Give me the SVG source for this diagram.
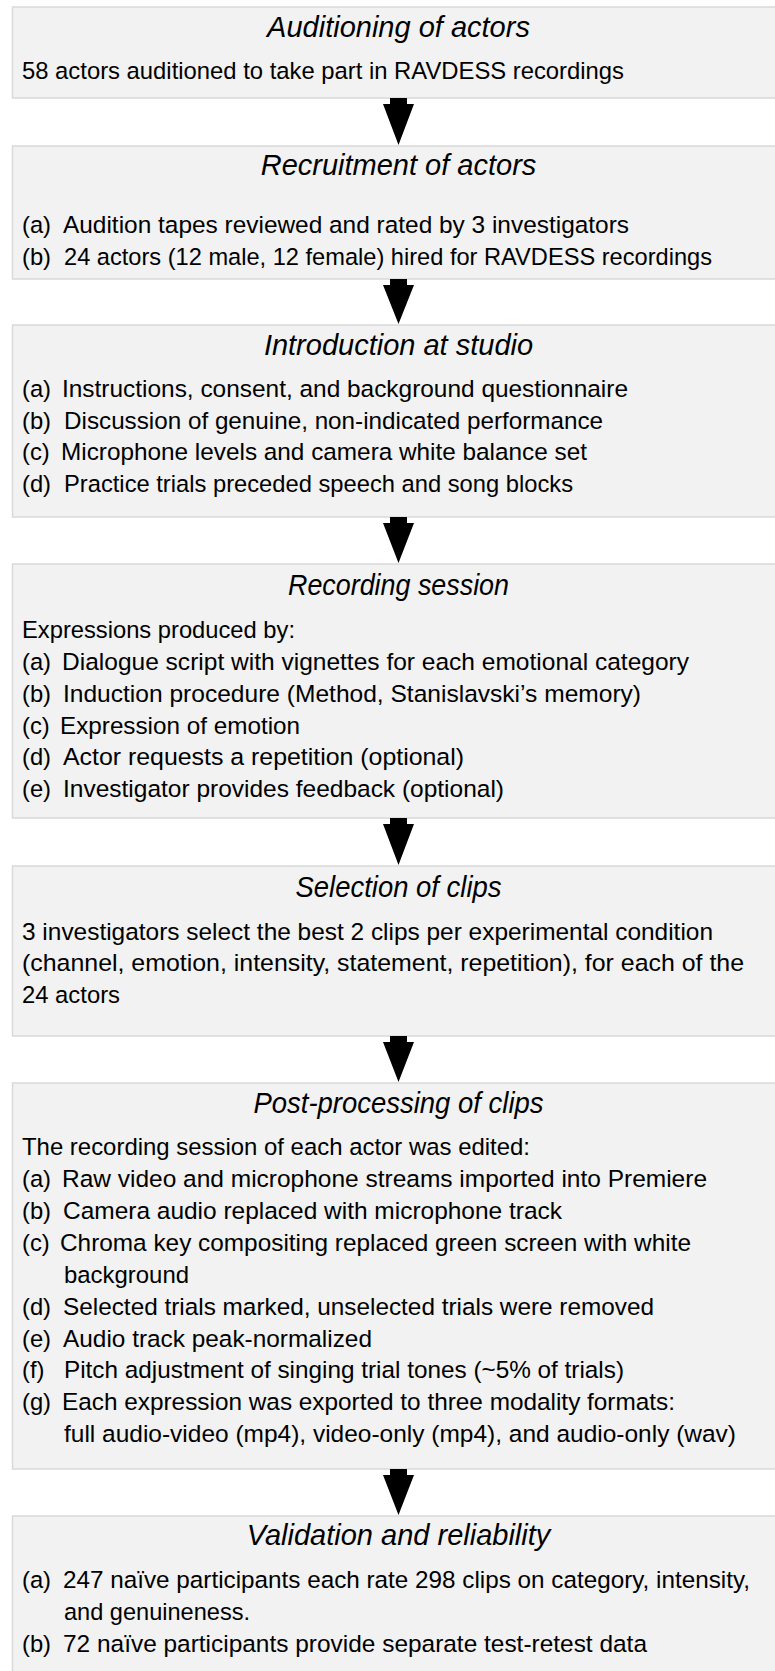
<svg xmlns="http://www.w3.org/2000/svg" width="775" height="1671" viewBox="0 0 775 1671">
<style>
.box{fill:#f2f2f2;stroke:#d9d9d9;stroke-width:1.5}
.t{font-family:"Liberation Sans",Arial,sans-serif;font-style:italic;font-size:29px;fill:#000;text-anchor:middle}
.b{font-family:"Liberation Sans",Arial,sans-serif;font-size:23.75px;fill:#000}
.arr{fill:#000}
</style>
<rect width="775" height="1671" fill="#fff"/>
<g id="node1">
<rect class="box" x="12.5" y="7" width="800" height="91"/>
<text class="t" x="398.5" y="37">Auditioning of actors</text>
<text class="b" x="22" y="78.5" textLength="602" lengthAdjust="spacingAndGlyphs">58 actors auditioned to take part in RAVDESS recordings</text>
</g>
<g id="node2">
<rect class="box" x="12.5" y="146" width="800" height="133"/>
<text class="t" x="398.5" y="175">Recruitment of actors</text>
<text class="b" x="22" y="233">(a)</text><text class="b" x="63" y="233" textLength="566" lengthAdjust="spacingAndGlyphs">Audition tapes reviewed and rated by 3 investigators</text>
<text class="b" x="22" y="265">(b)</text><text class="b" x="64" y="265" textLength="648" lengthAdjust="spacingAndGlyphs">24 actors (12 male, 12 female) hired for RAVDESS recordings</text>
</g>
<g id="node3">
<rect class="box" x="12.5" y="325" width="800" height="192"/>
<text class="t" x="398.5" y="355">Introduction at studio</text>
<text class="b" x="22" y="397">(a)</text><text class="b" x="62" y="397" textLength="566" lengthAdjust="spacingAndGlyphs">Instructions, consent, and background questionnaire</text>
<text class="b" x="22" y="428.5">(b)</text><text class="b" x="64" y="428.5" textLength="539" lengthAdjust="spacingAndGlyphs">Discussion of genuine, non-indicated performance</text>
<text class="b" x="22" y="460">(c)</text><text class="b" x="61" y="460" textLength="526" lengthAdjust="spacingAndGlyphs">Microphone levels and camera white balance set</text>
<text class="b" x="22" y="492">(d)</text><text class="b" x="64" y="492" textLength="509" lengthAdjust="spacingAndGlyphs">Practice trials preceded speech and song blocks</text>
</g>
<g id="node4">
<rect class="box" x="12.5" y="564" width="800" height="254"/>
<text class="t" x="398.5" y="595" textLength="221" lengthAdjust="spacingAndGlyphs">Recording session</text>
<text class="b" x="22" y="638" textLength="273" lengthAdjust="spacingAndGlyphs">Expressions produced by:</text>
<text class="b" x="22" y="670">(a)</text><text class="b" x="62" y="670" textLength="627" lengthAdjust="spacingAndGlyphs">Dialogue script with vignettes for each emotional category</text>
<text class="b" x="22" y="702">(b)</text><text class="b" x="63" y="702" textLength="578" lengthAdjust="spacingAndGlyphs">Induction procedure (Method, Stanislavski’s memory)</text>
<text class="b" x="22" y="733.5">(c)</text><text class="b" x="60" y="733.5" textLength="240" lengthAdjust="spacingAndGlyphs">Expression of emotion</text>
<text class="b" x="22" y="765">(d)</text><text class="b" x="63" y="765" textLength="401" lengthAdjust="spacingAndGlyphs">Actor requests a repetition (optional)</text>
<text class="b" x="22" y="797">(e)</text><text class="b" x="63" y="797" textLength="441" lengthAdjust="spacingAndGlyphs">Investigator provides feedback (optional)</text>
</g>
<g id="node5">
<rect class="box" x="12.5" y="866" width="800" height="170"/>
<text class="t" x="398.5" y="897" textLength="206" lengthAdjust="spacingAndGlyphs">Selection of clips</text>
<text class="b" x="22" y="939.5" textLength="691" lengthAdjust="spacingAndGlyphs">3 investigators select the best 2 clips per experimental condition</text>
<text class="b" x="22" y="971" textLength="722" lengthAdjust="spacingAndGlyphs">(channel, emotion, intensity, statement, repetition), for each of the</text>
<text class="b" x="22" y="1003" textLength="98" lengthAdjust="spacingAndGlyphs">24 actors</text>
</g>
<g id="node6">
<rect class="box" x="12.5" y="1083" width="800" height="386"/>
<text class="t" x="398.5" y="1113" textLength="290" lengthAdjust="spacingAndGlyphs">Post-processing of clips</text>
<text class="b" x="22" y="1155" textLength="508" lengthAdjust="spacingAndGlyphs">The recording session of each actor was edited:</text>
<text class="b" x="22" y="1187">(a)</text><text class="b" x="62" y="1187" textLength="645" lengthAdjust="spacingAndGlyphs">Raw video and microphone streams imported into Premiere</text>
<text class="b" x="22" y="1219">(b)</text><text class="b" x="63" y="1219" textLength="499" lengthAdjust="spacingAndGlyphs">Camera audio replaced with microphone track</text>
<text class="b" x="22" y="1251">(c)</text><text class="b" x="60" y="1251" textLength="631" lengthAdjust="spacingAndGlyphs">Chroma key compositing replaced green screen with white</text>
<text class="b" x="64" y="1283" textLength="125" lengthAdjust="spacingAndGlyphs">background</text>
<text class="b" x="22" y="1315">(d)</text><text class="b" x="63" y="1315" textLength="591" lengthAdjust="spacingAndGlyphs">Selected trials marked, unselected trials were removed</text>
<text class="b" x="22" y="1346.5">(e)</text><text class="b" x="63" y="1346.5" textLength="309" lengthAdjust="spacingAndGlyphs">Audio track peak-normalized</text>
<text class="b" x="22" y="1378">(f)</text><text class="b" x="64" y="1378" textLength="560" lengthAdjust="spacingAndGlyphs">Pitch adjustment of singing trial tones (~5% of trials)</text>
<text class="b" x="22" y="1410">(g)</text><text class="b" x="62" y="1410" textLength="613" lengthAdjust="spacingAndGlyphs">Each expression was exported to three modality formats:</text>
<text class="b" x="64" y="1442" textLength="672" lengthAdjust="spacingAndGlyphs">full audio-video (mp4), video-only (mp4), and audio-only (wav)</text>
</g>
<g id="node7">
<rect class="box" x="12.5" y="1516" width="800" height="200"/>
<text class="t" x="398.5" y="1545">Validation and reliability</text>
<text class="b" x="22" y="1588">(a)</text><text class="b" x="63" y="1588" textLength="687" lengthAdjust="spacingAndGlyphs">247 naïve participants each rate 298 clips on category, intensity,</text>
<text class="b" x="64" y="1620" textLength="186" lengthAdjust="spacingAndGlyphs">and genuineness.</text>
<text class="b" x="22" y="1652">(b)</text><text class="b" x="63" y="1652" textLength="584" lengthAdjust="spacingAndGlyphs">72 naïve participants provide separate test-retest data</text>
</g>
<g id="connectors">
<polygon class="arr" points="390,98 407,98 407,104 414,104 398.5,145 383,104 390,104"/>
<polygon class="arr" points="390,279 407,279 407,285 414,285 398.5,324 383,285 390,285"/>
<polygon class="arr" points="390,517 407,517 407,523 414,523 398.5,563 383,523 390,523"/>
<polygon class="arr" points="390,818 407,818 407,824 414,824 398.5,865 383,824 390,824"/>
<polygon class="arr" points="390,1036 407,1036 407,1042 414,1042 398.5,1082 383,1042 390,1042"/>
<polygon class="arr" points="390,1469 407,1469 407,1475 414,1475 398.5,1515 383,1475 390,1475"/>
</g>
</svg>
